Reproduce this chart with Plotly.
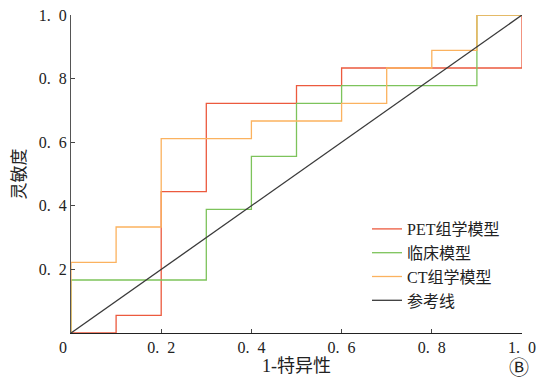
import plotly.graph_objects as go

# ROC step curves (1-specificity, sensitivity)
pet_x = [0, 0.1, 0.1, 0.2, 0.2, 0.3, 0.3, 0.5, 0.5, 0.6, 0.6, 1.0, 1.0]
pet_y = [0, 0, 1/18, 1/18, 8/18, 8/18, 13/18, 13/18, 14/18, 14/18, 15/18, 15/18, 1.0]

clin_x = [0, 0, 0.3, 0.3, 0.4, 0.4, 0.5, 0.5, 0.6, 0.6, 0.9, 0.9, 1.0]
clin_y = [0, 3/18, 3/18, 7/18, 7/18, 10/18, 10/18, 13/18, 13/18, 14/18, 14/18, 1.0, 1.0]

ct_x = [0, 0, 0.1, 0.1, 0.2, 0.2, 0.4, 0.4, 0.6, 0.6, 0.7, 0.7, 0.8, 0.8, 0.9, 0.9, 1.0]
ct_y = [0, 4/18, 4/18, 6/18, 6/18, 11/18, 11/18, 12/18, 12/18, 13/18, 13/18, 15/18, 15/18, 16/18, 16/18, 1.0, 1.0]

ref_x = [0, 1]
ref_y = [0, 1]

series_names = ["PET组学模型", "临床模型", "CT组学模型", "参考线"]
colors = ["#EC5A3E", "#7DC35B", "#FBB25F", "#3A3A3A"]

x_tickvals = [0, 0.2, 0.4, 0.6, 0.8, 1.0]
x_ticktext = ["0\u2002\u2002", "0.\u20022", "0.\u20024", "0.\u20026", "0.\u20028", "1.\u20020"]
y_tickvals = [0.2, 0.4, 0.6, 0.8, 1.0]
y_ticktext = ["0.\u20022", "0.\u20024", "0.\u20026", "0.\u20028", "1.\u20020"]

fig = go.Figure()
for xs, ys, name, c in zip([pet_x, clin_x, ct_x, ref_x], [pet_y, clin_y, ct_y, ref_y], series_names, colors):
    fig.add_trace(go.Scatter(x=xs, y=ys, mode="lines", name=name,
                             line=dict(color=c, width=1.3), cliponaxis=False))

serif = "Liberation Serif, Noto Sans CJK SC, serif"
L, R, T, B = 71, 16, 15, 45
W, H = 538, 378
pw, ph = W - L - R, H - T - B

def px_x(p):
    return (p - L) / pw

def px_y(p):
    return (H - B - p) / ph

fig.update_layout(
    width=W, height=H,
    margin=dict(l=L, r=R, t=T, b=B, autoexpand=False),
    paper_bgcolor="white", plot_bgcolor="white",
    font=dict(family=serif, size=16, color="#222"),
    showlegend=True,
    legend=dict(x=px_x(367), y=px_y(212), xanchor="left", yanchor="top",
                bgcolor="rgba(0,0,0,0)", font=dict(size=16, family=serif),
                tracegroupgap=0, itemwidth=30),
    xaxis=dict(range=[0, 1], tickvals=x_tickvals, ticktext=x_ticktext, automargin=False,
               showgrid=False, zeroline=False, showline=True, linecolor="#222", linewidth=1,
               ticks="inside", ticklen=4, tickcolor="#444",
               title=dict(text="1-特异性", standoff=3, font=dict(size=18, family=serif))),
    yaxis=dict(range=[0, 1], tickvals=y_tickvals, ticktext=y_ticktext, automargin=False,
               showgrid=False, zeroline=False, showline=True, linecolor="#555", linewidth=1,
               ticks="inside", ticklen=4, tickcolor="#444",
               title=dict(text="灵敏度", standoff=8, font=dict(size=17, family=serif))),
    annotations=[dict(text="Ⓑ", x=px_x(519), y=px_y(367), xref="paper", yref="paper",
                      showarrow=False, xanchor="center", yanchor="middle", height=21,
                      font=dict(size=20, family="DejaVu Sans, Noto Sans CJK SC"))],
)

fig.write_html("out.html", config={"displayModeBar": False},
               post_script="document.body.style.margin='0';document.body.style.padding='0';")
